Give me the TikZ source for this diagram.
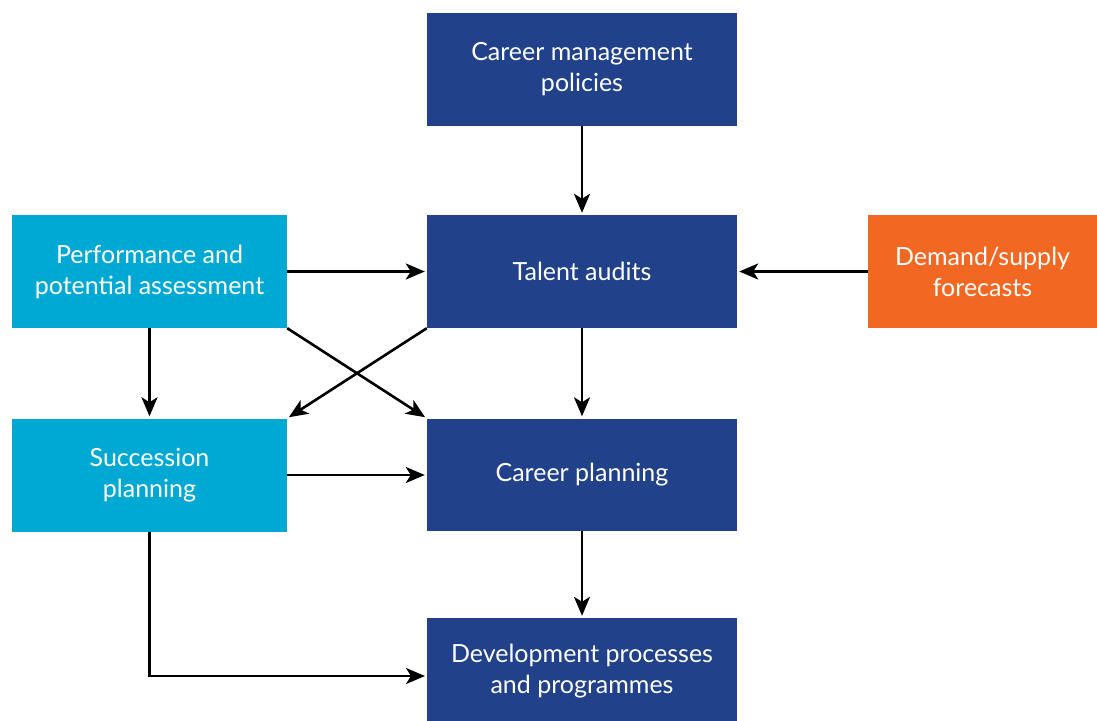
\documentclass[tikz,border=0pt]{standalone}
\usepackage{fontspec}
\setmainfont{Lato}
\usetikzlibrary{arrows.meta}
\definecolor{dblue}{HTML}{21428A}
\definecolor{lblue}{HTML}{00A9D4}
\definecolor{orng}{HTML}{F26722}
\begin{document}
\begin{tikzpicture}[x=1pt,y=-1pt,
  box/.style={draw=none,inner sep=0pt,align=center,text=white,font=\fontsize{25}{31}\selectfont},
  arr/.style={line width=2.6pt,-{Stealth[length=19pt,width=16pt,inset=5pt]},shorten >=2pt}]
\useasboundingbox (0,0) rectangle (1097,720);
\node[box,fill=dblue,minimum width=310pt,minimum height=113pt] (cmp) at (582,69.5) {Career management\\policies};
\node[box,fill=dblue,minimum width=310pt,minimum height=113pt] (ta) at (582,271.5) {Talent audits};
\node[box,fill=lblue,minimum width=275pt,minimum height=113pt] (pa) at (149.5,271.5) {Performance and\\potential assessment};
\node[box,fill=orng,minimum width=229pt,minimum height=113pt] (ds) at (982.5,271.5) {Demand/supply\\forecasts};
\node[box,fill=lblue,minimum width=275pt,minimum height=113pt] (sp) at (149.5,475) {Succession\\planning};
\node[box,fill=dblue,minimum width=310pt,minimum height=112pt] (cp) at (582,474.5) {Career planning};
\node[box,fill=dblue,minimum width=310pt,minimum height=106pt] (dp) at (582,671) {Development processes\\and programmes};
\coordinate (dpin) at (427,676);
\draw[arr] (cmp) -- (ta);
\draw[arr] (pa) -- (ta);
\draw[arr] (ds) -- (ta);
\draw[arr] (pa) -- (sp);
\draw[arr] (pa.south east) -- (cp.north west);
\draw[arr] (ta.south west) -- (sp.north east);
\draw[arr] (ta) -- (cp);
\draw[arr] (sp.east) -- (sp.east -| cp.west);
\draw[arr] (cp) -- (dp);
\draw[arr] (sp.south) |- (dpin);
\end{tikzpicture}
\end{document}
